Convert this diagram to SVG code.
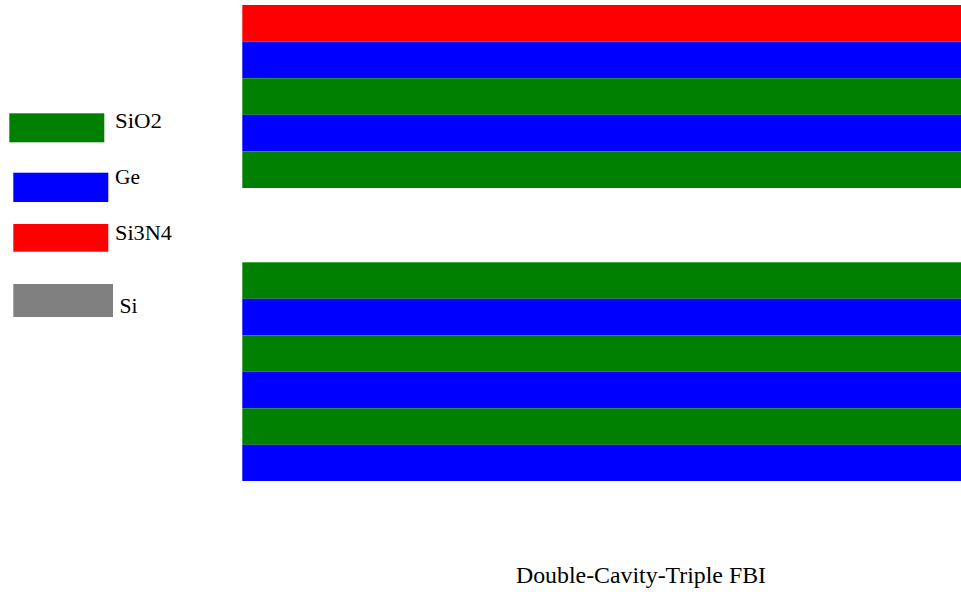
<svg xmlns="http://www.w3.org/2000/svg" width="961" height="592" viewBox="0 0 961 592">
<style>
.g{fill:#008000}.b{fill:#0000ff}.r{fill:#ff0000}.s{fill:#808080}
.lab{font-family:"Liberation Serif",serif;font-size:21px;fill:#000}
.title{font-family:"Liberation Serif",serif;font-size:23px;fill:#000}
</style>
<rect width="961" height="592" fill="#fff"/>
<g id="legend-sio2"><rect class="g" x="9.3" y="113.3" width="95" height="29"/><text class="lab" x="115" y="128" textLength="47" lengthAdjust="spacingAndGlyphs">SiO2</text></g>
<g id="legend-ge"><rect class="b" x="13.3" y="172.7" width="95" height="29.3"/><text class="lab" x="115" y="184.3" textLength="25" lengthAdjust="spacingAndGlyphs">Ge</text></g>
<g id="legend-si3n4"><rect class="r" x="13.3" y="224" width="95" height="27.7"/><text class="lab" x="115" y="240" textLength="57" lengthAdjust="spacingAndGlyphs">Si3N4</text></g>
<g id="legend-si"><rect class="s" x="13.3" y="284" width="99.7" height="33"/><text class="lab" x="119.5" y="313.3" textLength="18" lengthAdjust="spacingAndGlyphs">Si</text></g>
<g id="top-stack">
<rect class="r" x="242.3" y="5" width="718.7" height="36.6"/>
<rect class="b" x="242.3" y="41.6" width="718.7" height="36.6"/>
<rect class="g" x="242.3" y="78.2" width="718.7" height="36.6"/>
<rect class="b" x="242.3" y="114.8" width="718.7" height="36.6"/>
<rect class="g" x="242.3" y="151.4" width="718.7" height="36.6"/>
</g>
<g id="bottom-stack">
<rect class="g" x="242.3" y="262.3" width="718.7" height="36.5"/>
<rect class="b" x="242.3" y="298.8" width="718.7" height="36.5"/>
<rect class="g" x="242.3" y="335.3" width="718.7" height="36.5"/>
<rect class="b" x="242.3" y="371.8" width="718.7" height="36.5"/>
<rect class="g" x="242.3" y="408.3" width="718.7" height="36.5"/>
<rect class="b" x="242.3" y="444.8" width="718.7" height="36.2"/>
</g>
<g id="connectors"/>
<text class="title" x="516" y="583.3" textLength="250" lengthAdjust="spacingAndGlyphs">Double-Cavity-Triple FBI</text>
</svg>
